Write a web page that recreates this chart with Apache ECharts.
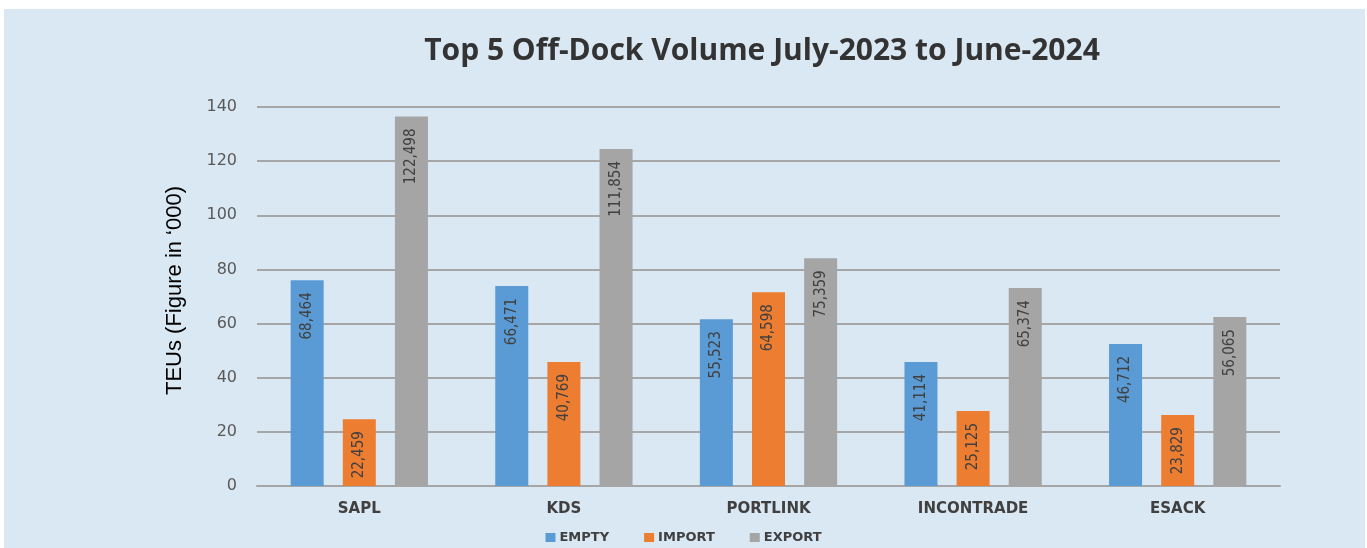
<!DOCTYPE html>
<html>
<head>
<meta charset="utf-8">
<script src="https://cdn.jsdelivr.net/npm/echarts@6/dist/echarts.min.js"></script>
<style>
  html, body { margin: 0; padding: 0; background: #ffffff; }
  #panel { position: absolute; left: 4px; top: 9px; width: 1361px; height: 539px; background: #d9e8f3; }
  #chart { position: absolute; left: 0; top: 0; width: 1367px; height: 548px; }
</style>
</head>
<body>
<div id="panel"></div>
<div id="chart"></div>
<script>
// Categories
var categories = ['SAPL', 'KDS', 'PORTLINK', 'INCONTRADE', 'ESACK'];
// Bar heights as drawn against the axis (TEUs, '000)
var emptyHeights  = [76.0, 73.9, 61.6, 45.8, 52.5];
var importHeights = [24.7, 45.8, 71.6, 27.7, 26.2];
var exportHeights = [136.5, 124.5, 84.1, 73.1, 62.4];
// Data labels printed on bars (TEUs)
var emptyLabels  = ['68,464', '66,471', '55,523', '41,114', '46,712'];
var importLabels = ['22,459', '40,769', '64,598', '25,125', '23,829'];
var exportLabels = ['122,498', '111,854', '75,359', '65,374', '56,065'];
// Axis ticks
var yTicks = [0, 20, 40, 60, 80, 100, 120, 140];

var chart = echarts.init(document.getElementById('chart'), null, { renderer: 'canvas' });

function labelCfg(arr) {
  return {
    show: true,
    position: 'insideTop',
    rotate: 90,
    align: 'right',
    verticalAlign: 'middle',
    distance: 12,
    fontFamily: '"DejaVu Sans Condensed", "Liberation Sans Narrow", sans-serif',
    fontSize: 15,
    color: '#404040',
    formatter: function (p) { return arr[p.dataIndex]; }
  };
}

var option = {
  backgroundColor: 'transparent',
  animation: false,
  title: {
    text: 'Top 5 Off-Dock Volume July-2023 to June-2024',
    left: 757,
    textAlign: 'center',
    top: 31,
    textStyle: { fontFamily: '"Open Sans", sans-serif', fontWeight: 'bold', fontSize: 30, color: '#333333' }
  },
  legend: {
    data: ['EMPTY', 'IMPORT', 'EXPORT'],
    left: 'center',
    top: 526,
    itemWidth: 10,
    itemHeight: 9,
    itemGap: 35,
    icon: 'rect',
    textStyle: { fontFamily: '"DejaVu Sans", sans-serif', fontWeight: 'bold', fontSize: 13, color: '#404040', padding: [0, 0, 0, -1] }
  },
  grid: { left: 257, right: 87, top: 107, bottom: 62, containLabel: false },
  xAxis: {
    type: 'category',
    data: categories,
    axisLine: { show: true, lineStyle: { color: '#a6a6a6', width: 2 } },
    axisTick: { show: false },
    axisLabel: { margin: 16, fontFamily: '"DejaVu Sans", sans-serif', fontWeight: 'bold', fontSize: 15, color: '#404040' }
  },
  yAxis: {
    type: 'value',
    min: yTicks[0],
    max: yTicks[yTicks.length - 1],
    interval: 20,
    name: 'TEUs (Figure in \u2018000)',
    nameLocation: 'middle',
    nameGap: 71,
    nameRotate: 90,
    nameTextStyle: { fontFamily: '"Liberation Sans", Arial, sans-serif', fontSize: 22, color: '#000000', padding: [0, 0, 0, 12] },
    axisLine: { show: false },
    axisTick: { show: false },
    axisLabel: { margin: 20, fontFamily: '"DejaVu Sans", sans-serif', fontSize: 16, color: '#595959' },
    splitLine: { lineStyle: { color: '#a6a6a6', width: 2 } }
  },
  series: [
    { name: 'EMPTY', type: 'bar', data: emptyHeights, barWidth: 33, barGap: '58%', itemStyle: { color: '#5b9bd5' }, label: labelCfg(emptyLabels) },
    { name: 'IMPORT', type: 'bar', data: importHeights, barWidth: 33, barGap: '58%', itemStyle: { color: '#ed7d31' }, label: labelCfg(importLabels) },
    { name: 'EXPORT', type: 'bar', data: exportHeights, barWidth: 33, barGap: '58%', itemStyle: { color: '#a5a5a5' }, label: labelCfg(exportLabels) }
  ]
};
chart.setOption(option);
</script>
</body>
</html>
